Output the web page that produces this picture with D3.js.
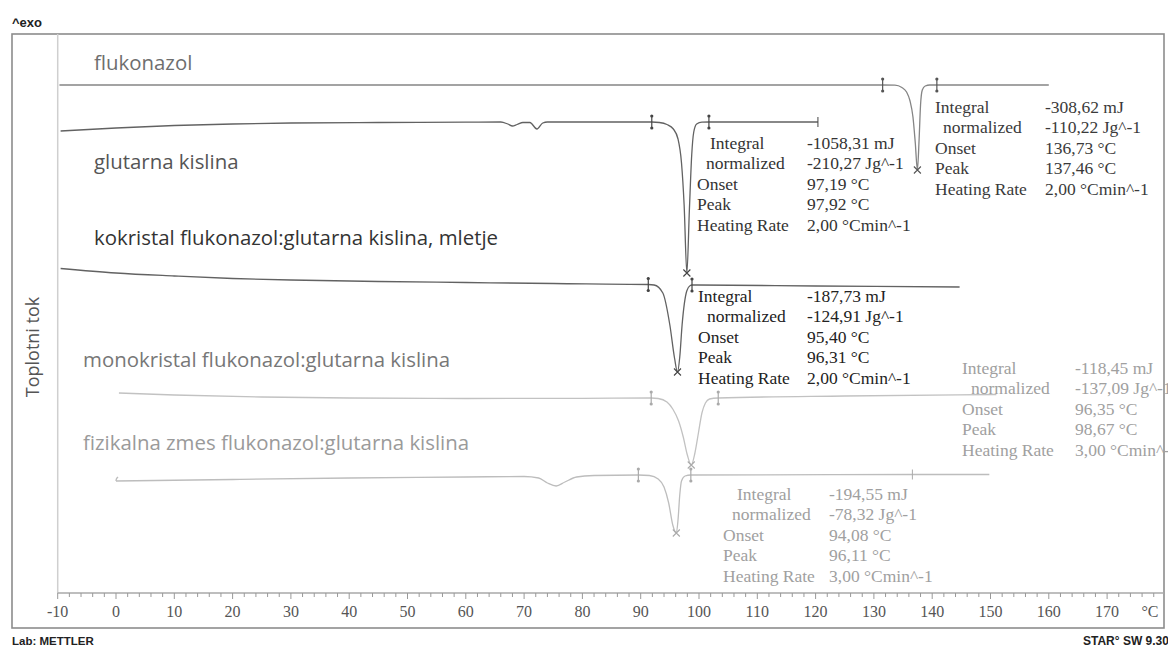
<!DOCTYPE html>
<html><head><meta charset="utf-8">
<script src="https://cdn.jsdelivr.net/npm/d3@7"></script>
<style>html,body{margin:0;padding:0;background:#fff;} svg{display:block;}</style>
</head><body>
<svg id="chart" width="1168" height="649"></svg>
<script>
// DSC thermograms: fluconazole, glutaric acid and their cocrystal / physical mixture

const sampleNames = [
  "flukonazol",
  "glutarna kislina",
  "kokristal flukonazol:glutarna kislina, mletje",
  "monokristal flukonazol:glutarna kislina",
  "fizikalna zmes flukonazol:glutarna kislina"
];

// heat flow curves, [temperature °C, heat flow mW] (exo up)
const flukonazolCurve = [
  [-9.7,-5.0],[40,-5.0],[100,-5.0],[131.5,-5.0],[133.6,-5.02],[134.8,-5.25],[135.6,-5.7],
  [136.2,-6.6],[136.7,-8.2],[137.1,-10.8],[137.46,-13.5],[137.75,-10.5],[138.0,-7.0],
  [138.3,-5.5],[138.8,-5.1],[139.6,-5.0],[160,-5.0]
];
const glutarnaCurve = [
  [-9.5,-9.6],[0,-9.3],[10,-9.05],[20,-8.9],[30,-8.8],[45,-8.75],[60,-8.72],[66,-8.7],
  [67.2,-8.9],[68,-9.1],[68.8,-8.95],[69.8,-8.75],[71.0,-8.75],[72.2,-9.4],[73.2,-8.8],
  [74,-8.7],[80,-8.7],[88,-8.7],[91.9,-8.7],[93.2,-8.75],[94.5,-8.95],[95.6,-9.4],
  [96.4,-10.4],[97.0,-12.8],[97.45,-17.0],[97.92,-23.8],[98.35,-17.5],[98.75,-12.0],
  [99.1,-9.7],[99.6,-8.9],[100.5,-8.72],[101.7,-8.7],[120.4,-8.7]
];
const kokristalCurve = [
  [-9.5,-23.35],[0,-23.8],[10,-24.1],[20,-24.35],[30,-24.5],[45,-24.65],[60,-24.75],
  [75,-24.85],[91.3,-24.95],[92.3,-25.0],[93.8,-25.8],[95.0,-29.0],[95.8,-32.3],
  [96.31,-33.7],[96.7,-32.2],[97.1,-29.0],[97.9,-25.6],[98.5,-25.05],[98.8,-25.0],
  [120,-25.1],[144.7,-25.2]
];
const monokristalCurve = [
  [0.5,-35.8],[10,-36.0],[25,-36.2],[40,-36.3],[60,-36.35],[80,-36.33],[91.8,-36.3],
  [93.0,-36.35],[94.5,-36.7],[95.5,-37.4],[96.5,-38.6],[97.3,-40.2],[98.0,-42.0],
  [98.67,-43.0],[99.3,-41.8],[99.9,-39.8],[100.5,-37.8],[101.1,-36.8],[101.8,-36.4],
  [103.3,-36.3],[125,-36.1],[151,-35.95]
];
const fizikalnaCurve = [
  [0,-44.6],[20,-44.45],[40,-44.3],[60,-44.2],[70,-44.15],[72.5,-44.3],[74,-44.8],
  [75.5,-45.1],[77,-44.7],[79,-44.2],[82,-44.05],[89.6,-44.0],[91.5,-44.05],[93,-44.4],
  [94.0,-45.2],[94.8,-46.8],[95.5,-49.0],[96.11,-49.8],[96.4,-48.5],[96.7,-46.0],
  [97.0,-44.6],[97.6,-44.1],[98.6,-44.0],[136.6,-43.95],[149.8,-43.95]
];
// small hook where the physical-mixture run starts
const fizikalnaStart = [[0.35,-44.2],[0.05,-44.35],[0,-44.6]];

// integration limits, peak temperatures and curve end marks
const integrationLimits = [[131.5,140.8],[91.9,101.7],[91.3,98.8],[91.8,103.3],[89.6,98.6]];
const peakTemps = [137.46, 97.92, 96.31, 98.67, 96.11];
const endMarks = [[], [120.4], [], [], [136.6]];

// evaluation results
const resultLabels = ["Integral", "normalized", "Onset", "Peak", "Heating Rate"];
const flukonazolResults   = ["-308,62 mJ", "-110,22 Jg^-1", "136,73 °C", "137,46 °C", "2,00 °Cmin^-1"];
const glutarnaResults     = ["-1058,31 mJ", "-210,27 Jg^-1", "97,19 °C", "97,92 °C", "2,00 °Cmin^-1"];
const kokristalResults    = ["-187,73 mJ", "-124,91 Jg^-1", "95,40 °C", "96,31 °C", "2,00 °Cmin^-1"];
const monokristalResults  = ["-118,45 mJ", "-137,09 Jg^-1", "96,35 °C", "98,67 °C", "3,00 °Cmin^-1"];
const fizikalnaResults    = ["-194,55 mJ", "-78,32 Jg^-1", "94,08 °C", "96,11 °C", "3,00 °Cmin^-1"];

const xTicks = d3.range(-10, 171, 10);
const xMinorTicks = d3.range(-10, 180, 2);

// ---------- layout ----------
const frame = {left: 12, top: 34, right: 1164, bottom: 628};
const axisY = 593;
const curves = [flukonazolCurve, glutarnaCurve, kokristalCurve, monokristalCurve, fizikalnaCurve];
const results = [flukonazolResults, glutarnaResults, kokristalResults, monokristalResults, fizikalnaResults];
const curveColors = ["#858585", "#626262", "#626262", "#c2c2c2", "#bdbdbd"];
const markColors  = ["#555", "#444", "#444", "#aaa", "#aaa"];
const nameColors  = ["#6e6e6e", "#555", "#333", "#777", "#9a9a9a"];
const textColors  = ["#3a3a3a", "#333", "#222", "#a0a0a0", "#a0a0a0"];
const nameLayout = [
  {x: 94, y: 70}, {x: 94, y: 169}, {x: 94, y: 245}, {x: 83, y: 367}, {x: 83, y: 450}
];
const blockLayout = [
  {x: 935, indent: [0, 8, 0, 0, 0], vx: 1045, y: 113},
  {x: 697, indent: [13, 9, 0, 0, 0], vx: 807, y: 149},
  {x: 698, indent: [0, 9, 0, 0, 0], vx: 807, y: 302},
  {x: 962, indent: [0, 9, 0, 0, 0], vx: 1075, y: 374},
  {x: 723, indent: [14, 9, 0, 0, 0], vx: 829, y: 500}
];
const lineStep = 20.4;

const svg = d3.select("#chart");

const x = d3.scaleLinear().domain([-10, 180]).range([57.7, 1165.4]);
const y = d3.scaleLinear().domain([0, -55.8]).range([35, axisY]);

// outer frame and inner plot edge
svg.append("rect")
  .attr("x", frame.left).attr("y", frame.top)
  .attr("width", frame.right - frame.left).attr("height", frame.bottom - frame.top)
  .attr("fill", "none").attr("stroke", "#8c8c8c").attr("stroke-width", 1.6);
svg.append("line")
  .attr("x1", x(-10)).attr("x2", x(-10)).attr("y1", frame.top).attr("y2", axisY)
  .attr("stroke", "#cfcfcf").attr("stroke-width", 1.5);

// temperature axis
const axisG = svg.append("g").attr("transform", `translate(0,${axisY})`);
axisG.append("line").attr("x1", x(-10)).attr("x2", frame.right).attr("y1", 0).attr("y2", 0)
  .attr("stroke", "#a8a8a8").attr("stroke-width", 1.4);
axisG.selectAll("line.minor").data(xMinorTicks).join("line").attr("class", "minor")
  .attr("x1", d => x(d)).attr("x2", d => x(d)).attr("y1", 0)
  .attr("y2", d => d % 10 === 0 ? 6 : 4)
  .attr("stroke", "#999").attr("stroke-width", 1);
axisG.selectAll("text").data(xTicks).join("text")
  .attr("x", d => x(d)).attr("y", 24)
  .attr("text-anchor", "middle")
  .attr("font-family", "'Liberation Serif', 'Times New Roman', serif")
  .attr("font-size", 16).attr("fill", "#555")
  .text(d => d);
axisG.append("text").attr("x", 1150).attr("y", 24).attr("text-anchor", "middle")
  .attr("font-family", "'Liberation Serif', 'Times New Roman', serif")
  .attr("font-size", 16).attr("fill", "#555").text("°C");

// frame texts
const sansBold = "'Liberation Sans', Arial, sans-serif";
svg.append("text").attr("x", 12).attr("y", 27).attr("font-family", sansBold)
  .attr("font-weight", "bold").attr("font-size", 13).attr("fill", "#222").text("^exo");
svg.append("text").attr("x", 12).attr("y", 645).attr("font-family", sansBold)
  .attr("font-weight", "bold").attr("font-size", 11.5).attr("fill", "#222").text("Lab: METTLER");
svg.append("text").attr("x", 1083).attr("y", 645).attr("font-family", sansBold)
  .attr("font-weight", "bold").attr("font-size", 12).attr("fill", "#222").text("STAR° SW 9.30");
svg.append("text")
  .attr("transform", "translate(39,347) rotate(-90)")
  .attr("text-anchor", "middle")
  .attr("font-family", "'Open Sans', sans-serif")
  .attr("font-size", 18).attr("fill", "#555").text("Toplotni tok");

// sample names
svg.selectAll("text.name").data(sampleNames).join("text").attr("class", "name")
  .attr("x", (d, i) => nameLayout[i].x).attr("y", (d, i) => nameLayout[i].y)
  .attr("font-family", "'Open Sans', sans-serif").attr("font-size", 20.4)
  .attr("fill", (d, i) => nameColors[i])
  .text(d => d);

// curves
const line = d3.line().x(d => x(d[0])).y(d => y(d[1])).curve(d3.curveMonotoneX);
svg.selectAll("path.curve").data(curves).join("path").attr("class", "curve")
  .attr("d", line).attr("fill", "none")
  .attr("stroke", (d, i) => curveColors[i]).attr("stroke-width", 1.3);
svg.append("path").attr("d", d3.line().x(d => x(d[0])).y(d => y(d[1])).curve(d3.curveBasis)(fizikalnaStart))
  .attr("fill", "none").attr("stroke", curveColors[4]).attr("stroke-width", 1.3);

// heat flow at a temperature, read along the curve points
function valueAt(curve, t) {
  for (let k = 1; k < curve.length; k++) {
    const a = curve[k - 1], b = curve[k];
    if (t <= b[0]) return a[1] + (b[1] - a[1]) * (t - a[0]) / (b[0] - a[0]);
  }
  return curve[curve.length - 1][1];
}

// integration limit marks, peak crosses and end ticks
curves.forEach((c, i) => {
  const g = svg.append("g").attr("stroke", markColors[i]).attr("fill", markColors[i]);
  integrationLimits[i].forEach(t => {
    const px = x(t), py = y(valueAt(c, t));
    g.append("line").attr("x1", px).attr("x2", px).attr("y1", py - 7).attr("y2", py + 7).attr("stroke-width", 1.2);
    g.append("circle").attr("cx", px).attr("cy", py - 6).attr("r", 1.6).attr("stroke", "none");
    g.append("circle").attr("cx", px).attr("cy", py + 6).attr("r", 1.6).attr("stroke", "none");
  });
  const pt = peakTemps[i], ppx = x(pt), ppy = y(valueAt(c, pt));
  g.append("path").attr("d", `M${ppx-3.5},${ppy-3.5}L${ppx+3.5},${ppy+3.5}M${ppx+3.5},${ppy-3.5}L${ppx-3.5},${ppy+3.5}`)
    .attr("stroke-width", 1.1).attr("fill", "none");
  endMarks[i].forEach(t => {
    const px = x(t), py = y(valueAt(c, t));
    g.append("line").attr("x1", px).attr("x2", px).attr("y1", py - 5).attr("y2", py + 5).attr("stroke-width", 1);
  });
});

// result tables
results.forEach((vals, i) => {
  const L = blockLayout[i];
  const g = svg.append("g")
    .attr("font-family", "'Liberation Serif', 'Times New Roman', serif")
    .attr("font-size", 17.5).attr("fill", textColors[i]);
  resultLabels.forEach((lab, r) => {
    g.append("text").attr("x", L.x + L.indent[r]).attr("y", L.y + r * lineStep).text(lab);
    g.append("text").attr("x", L.vx).attr("y", L.y + r * lineStep).text(vals[r]);
  });
});
</script>
</body></html>
